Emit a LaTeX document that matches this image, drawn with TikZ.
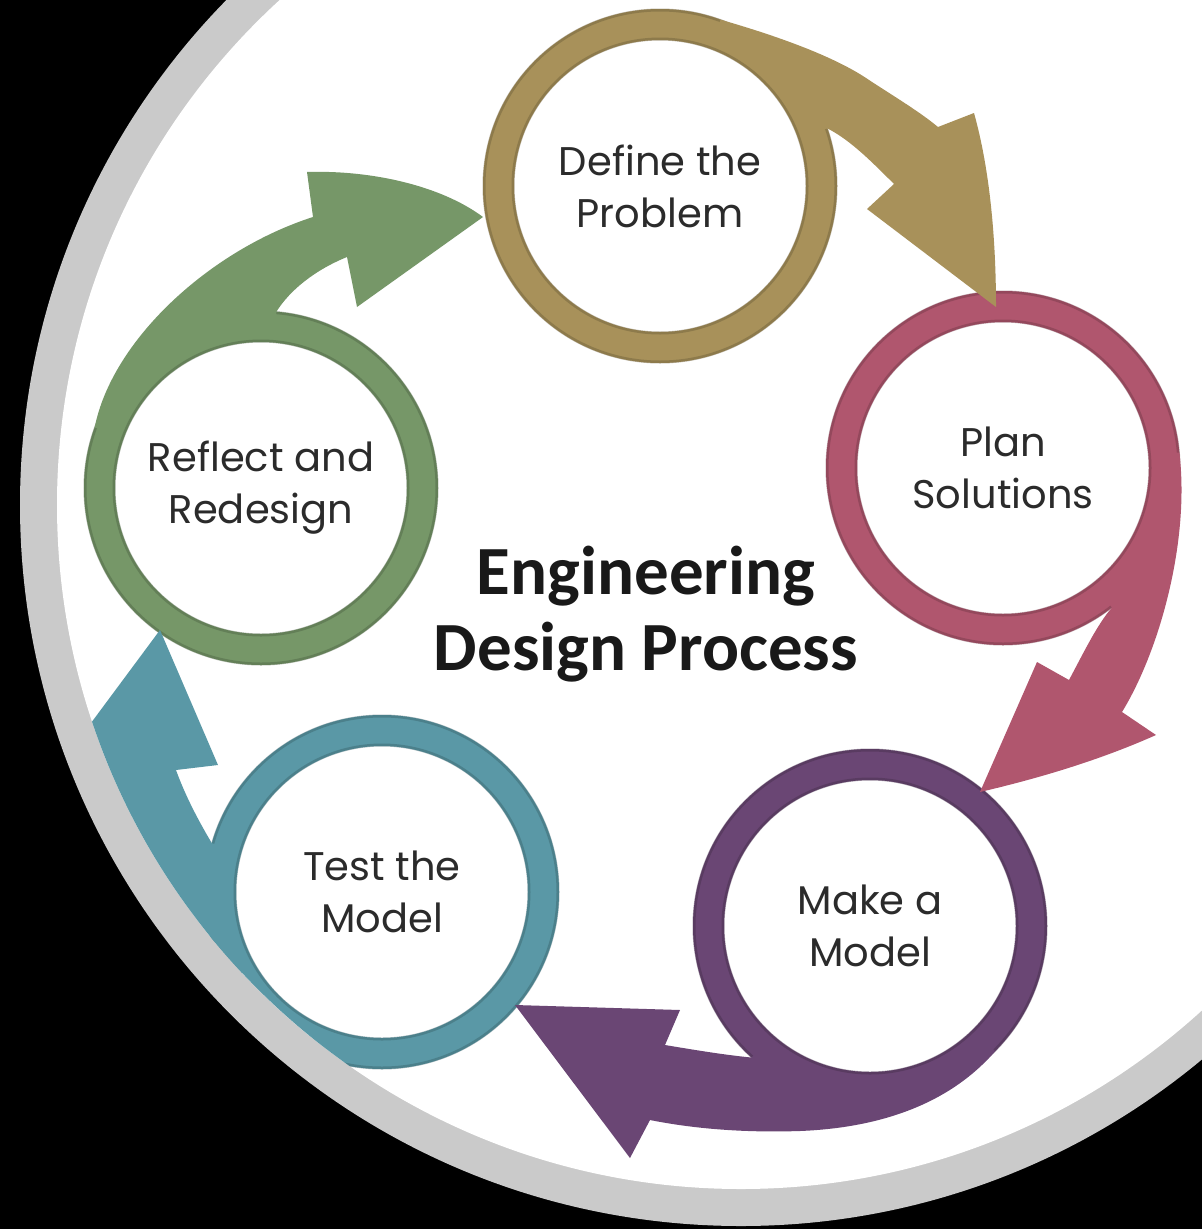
\documentclass[tikz,border=0pt]{standalone}
\usepackage{fontspec}
\setmainfont{Poppins}
\newfontfamily\headfont{Carlito}
\usetikzlibrary{calc}
\definecolor{cgold}{HTML}{A8915A}
\definecolor{cpink}{HTML}{B0566E}
\definecolor{cpurple}{HTML}{6A4674}
\definecolor{cteal}{HTML}{5A98A6}
\definecolor{cgreen}{HTML}{769768}
\definecolor{cgrey}{HTML}{CACACA}
\definecolor{ctext}{HTML}{2B2B2B}
\newcommand\stagefont{\fontsize{40}{52}\selectfont}
\begin{document}
\begin{tikzpicture}[x=1pt,y=-1pt,
  stage/.style={circle, draw=#1, line width=31pt, fill=white, minimum size=323pt,
    inner sep=0pt, align=center, text=ctext, font=\stagefont},
  ringedge/.style={draw=#1!65!black, line width=3pt, draw opacity=0.45},
  arrowband/.style={fill=#1}]
\useasboundingbox (0,0) rectangle (1202,1229);
\fill[black] (0,0) rectangle (1202,1229);
\begin{scope}
\clip (0,0) rectangle (1202,1229);
\fill[cgrey] (741,505) circle[radius=721];
\fill[white] (741,505) circle[radius=684];
\clip (741,505) circle[radius=684];
% stages
\node[stage=cgold]   (def)  at (660,186) {Define the\\Problem};
\node[stage=cpink]   (plan) at (1003,468) {Plan\\Solutions};
\node[stage=cpurple] (make) at (870,926) {Make a\\Model};
\node[stage=cteal]   (test) at (382,892) {Test the\\Model};
\node[stage=cgreen]  (refl) at (261,488) {Reflect and\\Redesign};
\foreach \n/\c in {def/cgold, plan/cpink, make/cpurple, test/cteal, refl/cgreen}{
  \path[ringedge=\c] (\n.center) circle[radius=147] (\n.center) circle[radius=176];
}
\node[font=\headfont\bfseries\fontsize{69}{76}\selectfont, align=center, text=black!90]
  (title) at (646,614) {Engineering\\Design Process};
% arrows
\fill[arrowband=cgold] ($(def.center)+(-70:177)$) .. controls (760,31) and (830,53) .. (869,80)
  .. controls (895,97) and (920,112) .. (938,127) -- (974,113)
  .. controls (990,170) and (996,240) .. (996,307) -- (867,209) -- (894,184)
  .. controls (870,160) and (850,140) .. ($(def.center)+(-19:177)$)
  -- ($(def.center)+(-19:161.5)$) arc[start angle=-19, end angle=-70, radius=161.5] -- cycle;
\fill[arrowband=cpink] ($(plan.center)+(-5:177)$) .. controls (1190,540) and (1160,650) .. (1122,712)
  -- (1156,735) .. controls (1100,760) and (1040,778) .. (980,792) -- (1037,662) -- (1069,680)
  .. controls (1085,650) and (1097,625) .. ($(plan.center)+(52:177)$)
  -- ($(plan.center)+(52:161.5)$) arc[start angle=52, end angle=-5, radius=161.5] -- cycle;
\fill[arrowband=cpurple] ($(make.center)+(45:177)$) .. controls (960,1092) and (900,1127) .. (800,1131)
  .. controls (740,1133) and (690,1128) .. (650,1120) -- (630,1158) -- (515,1005) -- (680,1010)
  -- (665,1045) .. controls (695,1050) and (725,1055) .. ($(make.center)+(132:177)$)
  -- ($(make.center)+(132:161.5)$) arc[start angle=132, end angle=45, radius=161.5] -- cycle;
\fill[arrowband=cteal] ($(test.center)+(150:177)$) .. controls (120,930) and (20,860) .. (0,790)
  -- (45,785) -- (160,630) -- (218,765) -- (176,770)
  .. controls (185,795) and (198,820) .. ($(test.center)+(196:177)$)
  -- ($(test.center)+(196:161.5)$) arc[start angle=196, end angle=150, radius=161.5] -- cycle;
\fill[arrowband=cgreen] ($(refl.center)+(200:177)$) .. controls (112,340) and (210,250) .. (313,217)
  -- (307,172) .. controls (370,170) and (440,185) .. (483,217) -- (357,307) -- (347,257)
  .. controls (315,270) and (290,290) .. ($(refl.center)+(275:177)$)
  -- ($(refl.center)+(275:161.5)$) arc[start angle=275, end angle=200, radius=161.5] -- cycle;
\end{scope}
\end{tikzpicture}
\end{document}
